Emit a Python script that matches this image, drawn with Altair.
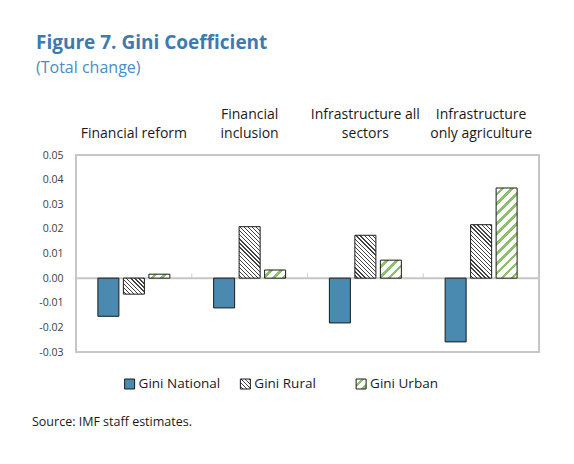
import math
import altair as alt

# ---------------- data ----------------
categories = ["Financial reform", "Financial\ninclusion",
              "Infrastructure all\nsectors", "Infrastructure\nonly agriculture"]
series = ["Gini National", "Gini Rural", "Gini Urban"]
gini_national = [-0.0155, -0.0121, -0.0182, -0.0259]
gini_rural = [-0.0065, 0.0209, 0.0174, 0.0217]
gini_urban = [0.0016, 0.0033, 0.0073, 0.0366]
y_ticks = [-0.03, -0.02, -0.01, 0.0, 0.01, 0.02, 0.03, 0.04, 0.05]

# ---------------- layout / style ----------------
W, H = 463, 197
Y_MIN, Y_MAX = -0.03, 0.05
PAD_IN, PAD_OUT = 0.176, 0.858
FONT = "Open Sans"
BLUE = "#4A8AB0"
GREEN = "#8DC06C"
HATCH_DARK = "#444444"
FRAME = "#C6C6C6"
TEXT = "#1a1a1a"
TITLE_BLUE = "#3C7AB0"
SUB_BLUE = "#4A8CC6"


def hatch(w, h, kind, period, lw, color, bg="white"):
    """Linear gradient with sharp stops that draws diagonal stripes
    (fixed pixel spacing) inside a box of w x h pixels."""
    w = max(w, 1.0)
    h = max(h, 1.0)
    span = w + h
    k = span / (w * w + h * h)
    if kind == "back":  # '\' stripes
        x1, y1, x2, y2 = 0, 1, k * w, 1 - k * h
    else:  # '/' stripes
        x1, y1, x2, y2 = 0, 0, k * w, k * h
    P = period * math.sqrt(2) / span
    L = lw * math.sqrt(2) / span
    stops = [{"offset": 0, "color": bg}]
    t = P * 0.5
    while t < 1:
        b = min(t + L, 1)
        stops += [{"offset": round(t, 5), "color": bg},
                  {"offset": round(t, 5), "color": color},
                  {"offset": round(b, 5), "color": color},
                  {"offset": round(b, 5), "color": bg}]
        t += P
    stops.append({"offset": 1, "color": bg})
    return {"gradient": "linear", "x1": x1, "y1": y1,
            "x2": round(x2, 5), "y2": round(y2, 5), "stops": stops}


band = W / len(categories)
bar_w = band / (len(series) - PAD_IN + 2 * PAD_OUT) * (1 - PAD_IN)
px_per_unit = H / (Y_MAX - Y_MIN)


def fill_for(s, value, w, h):
    if s == "Gini National":
        return BLUE
    if s == "Gini Rural":
        return hatch(w, h, "back", 2.9, 0.9, HATCH_DARK)
    return hatch(w, h, "fwd", 7.0, 2.6, GREEN)


records = []
for i, c in enumerate(categories):
    for s, vals in zip(series, [gini_national, gini_rural, gini_urban]):
        v = vals[i]
        records.append({"category": c, "series": s, "value": v,
                        "fill": fill_for(s, v, bar_w, abs(v) * px_per_unit)})

legend_records = [{"series": s, "fill": fill_for(s, 1, 10, 10)} for s in series]

# ---------------- main chart ----------------
label_expr = ("length(split(datum.label, '\\n')) > 1 ? "
              "split(datum.label, '\\n') : ['', datum.label]")
x_axis = alt.Axis(orient="top", title=None, domain=False, ticks=False,
                  labelAngle=0, labelAlign="center", labelFont=FONT,
                  labelFontSize=14, labelColor=TEXT, labelLineHeight=19,
                  labelPadding=34, labelExpr=label_expr)
x_scale = alt.Scale(paddingInner=0, paddingOuter=0)
y_scale = alt.Scale(domain=[Y_MIN, Y_MAX], nice=False, zero=False)
y_axis = alt.Axis(title=None, values=y_ticks, format=".2f", grid=False,
                  domain=False, ticks=False, labelFont=FONT, labelFontSize=10.5,
                  labelColor="#404040", labelPadding=13, labelOverlap=False,
                  labelBound=False, labelFlush=False,
                  labelExpr="replace(datum.label, '\u2212', '-')")

bars = alt.Chart(alt.Data(values=records)).mark_bar(
    stroke=TEXT, strokeWidth=1
).encode(
    x=alt.X("category:N", sort=categories, scale=x_scale, axis=x_axis),
    xOffset=alt.XOffset("series:N", sort=series,
                        scale=alt.Scale(paddingInner=PAD_IN, paddingOuter=PAD_OUT)),
    y=alt.Y("value:Q", scale=y_scale, axis=y_axis),
    fill=alt.Fill("fill:N", scale=None),
)

zero_line = alt.Chart(alt.Data(values=[{"zero": 0}])).mark_rule(
    color=FRAME, strokeWidth=2
).encode(y=alt.Y("zero:Q", scale=y_scale, axis=y_axis))

cat_ticks = alt.Chart(
    alt.Data(values=[{"category": c, "zero": 0} for c in categories])
).mark_tick(
    orient="vertical", size=5, thickness=1.2, color=FRAME, yOffset=-2.5
).encode(
    x=alt.X("category:N", sort=categories, bandPosition=0,
            scale=x_scale, axis=x_axis),
    y=alt.Y("zero:Q", scale=y_scale, axis=y_axis),
)

main = alt.layer(zero_line, cat_ticks, bars).properties(width=W, height=H)

# ---------------- legend ----------------
leg_base = alt.Chart(alt.Data(values=legend_records)).encode(
    x=alt.X("series:N", sort=series, axis=None,
            scale=alt.Scale(type="point", padding=1.013, align=0.21)),
)
leg_sq = leg_base.mark_square(size=100, stroke=TEXT, strokeWidth=1,
                              opacity=1, xOffset=5).encode(
    fill=alt.Fill("fill:N", scale=None))
leg_txt = leg_base.mark_text(align="left", baseline="middle", dx=14,
                             font=FONT, fontSize=13.5, color=TEXT).encode(
    text="series:N")
legend = alt.layer(leg_sq, leg_txt).properties(
    width=W, height=20,
    view=alt.ViewBackground(strokeOpacity=0),
    title=alt.Title("Source: IMF staff estimates.", orient="bottom",
                    anchor="start", font=FONT, fontSize=12.5,
                    fontWeight="normal", color=TEXT, dx=-44, offset=22),
)

chart = alt.vconcat(main, legend, spacing=15).properties(
    title=alt.Title("Figure 7. Gini Coefficient", subtitle="(Total change)",
                    anchor="start", font=FONT, fontSize=19, fontWeight="bold",
                    color=TITLE_BLUE, subtitleFont=FONT, subtitleFontSize=16,
                    subtitleColor=SUB_BLUE, subtitlePadding=7, offset=30, dx=4),
    padding={"left": 24, "top": 26, "right": 10, "bottom": 10},
).configure_view(stroke=FRAME, strokeWidth=2)

chart.save("out.html", embed_options={"renderer": "svg", "actions": False})
